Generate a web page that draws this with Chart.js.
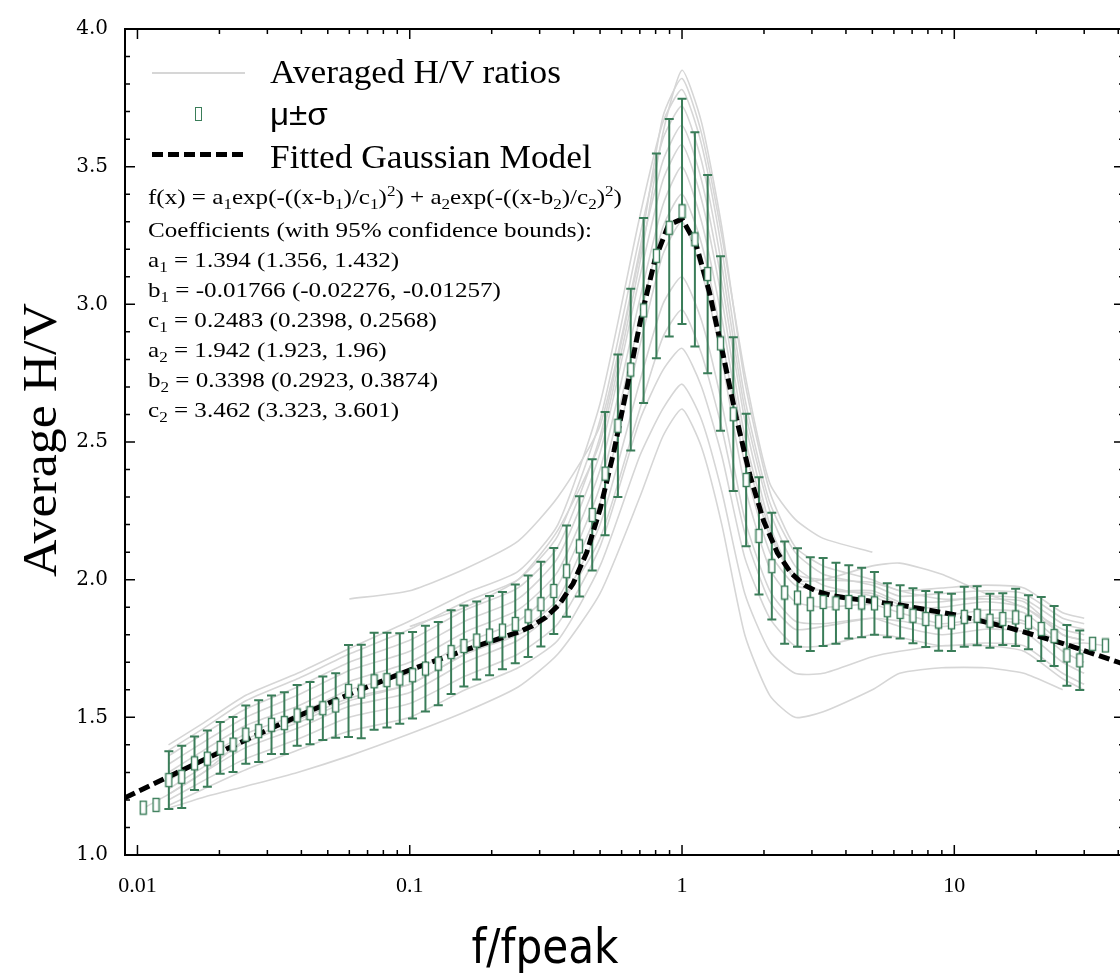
<!DOCTYPE html>
<html>
<head>
<meta charset="utf-8">
<title>Average H/V</title>
<script src="https://cdn.jsdelivr.net/npm/chart.js@4.4.1/dist/chart.umd.min.js"></script>
<style>
    body { margin: 0; background: #fff; }
    #quadro { position: relative; width: 1120px; height: 980px; overflow: hidden; background: #fff; }
    #graficoHV { position: absolute; left: 0; top: 0; }
    .texto { position: absolute; white-space: nowrap; color: #000; }
    .legenda { font-family: 'Liberation Serif', 'Times New Roman', serif; font-size: 33px; line-height: 40px; transform: scaleX(1.07); transform-origin: left center; }
    .equacao { font-family: 'Liberation Serif', 'Times New Roman', serif; font-size: 22px; line-height: 30px; transform: scaleX(1.14); transform-origin: left center; }
    sub, sup { font-size: 0.68em; line-height: 0; }
    #tituloY { left: 40px; top: 440px; font-family: 'Liberation Serif', serif; font-size: 48px; line-height: 48px;
        transform: translate(-50%, -50%) rotate(-90deg) scaleX(1.08); }
    #tituloX { left: 545px; top: 922px; font-family: 'DejaVu Sans', sans-serif; font-size: 48px; line-height: 48px;
        transform: translateX(-50%) scaleX(0.88); }
</style>
</head>
<body>
<div id="quadro">
    <canvas id="graficoHV" width="1130" height="980"></canvas>

    <div class="texto" id="tituloY">Average H/V</div>
    <div class="texto" id="tituloX">f/fpeak</div>

    <!-- legenda -->
    <div class="texto" style="left:152px; top:72px; width:93px; border-top:2px solid #d6d6d6;"></div>
    <div class="texto" style="left:195px; top:107px; width:5px; height:12px; border:1.5px solid #3a7d59;"></div>
    <div class="texto" style="left:152px; top:152px; width:93px; height:5px; background:repeating-linear-gradient(to right, #000 0 11px, transparent 11px 16px);"></div>
    <div class="texto legenda" style="left:270px; top:52px;">Averaged H/V ratios</div>
    <div class="texto legenda" style="left:270px; top:95px; font-family:'Liberation Sans', Arial, sans-serif; font-size:31px;">&mu;&plusmn;&sigma;</div>
    <div class="texto legenda" style="left:270px; top:137px;">Fitted Gaussian Model</div>

    <!-- equacao do ajuste -->
    <div class="texto equacao" style="left:148px; top:182px;">f(x) = a<sub>1</sub>exp(-((x-b<sub>1</sub>)/c<sub>1</sub>)<sup>2</sup>) + a<sub>2</sub>exp(-((x-b<sub>2</sub>)/c<sub>2</sub>)<sup>2</sup>)</div>
    <div class="texto equacao" style="left:148px; top:215px;">
        Coefficients (with 95% confidence bounds):<br>
        a<sub>1</sub> = 1.394 (1.356, 1.432)<br>
        b<sub>1</sub> = -0.01766 (-0.02276, -0.01257)<br>
        c<sub>1</sub> = 0.2483 (0.2398, 0.2568)<br>
        a<sub>2</sub> = 1.942 (1.923, 1.96)<br>
        b<sub>2</sub> = 0.3398 (0.2923, 0.3874)<br>
        c<sub>2</sub> = 3.462 (3.323, 3.601)
    </div>
</div>

<script>
// eixos
const marcasX = [0.01, 0.1, 1, 10];
const rotulosX = ['0.01', '0.1', '1', '10'];
const marcasY = [1.0, 1.5, 2.0, 2.5, 3.0, 3.5, 4.0];
const rotulosY = ['1.0', '1.5', '2.0', '2.5', '3.0', '3.5', '4.0'];

// media e desvio (mu +- sigma)
const frequencias = [0.0105, 0.0117, 0.01304, 0.01454, 0.0162, 0.01806, 0.02013, 0.02244, 0.025, 0.02787,
    0.03107, 0.03463, 0.0386, 0.04302, 0.04796, 0.05346, 0.05959, 0.06637, 0.07399, 0.08248,
    0.09192, 0.1024, 0.1142, 0.1273, 0.1419, 0.1581, 0.1762, 0.1964, 0.219, 0.2441,
    0.2721, 0.3032, 0.338, 0.3767, 0.4199, 0.468, 0.5217, 0.5814, 0.6481, 0.7225,
    0.8052, 0.8975, 1.0, 1.115, 1.242, 1.385, 1.543, 1.72, 1.917, 2.137,
    2.382, 2.655, 2.959, 3.298, 3.676, 4.098, 4.567, 5.09, 5.674, 6.324,
    7.05, 7.857, 8.758, 9.761, 10.88, 12.13, 13.52, 15.07, 16.8, 18.72,
    20.86, 23.26, 25.92, 28.89, 32.2, 35.89];
const mediaHV = [1.172, 1.182, 1.272, 1.284, 1.333, 1.350, 1.389, 1.401, 1.437, 1.450,
    1.473, 1.479, 1.507, 1.515, 1.533, 1.543, 1.596, 1.594, 1.631, 1.635,
    1.641, 1.653, 1.677, 1.695, 1.737, 1.759, 1.779, 1.797, 1.815, 1.839,
    1.867, 1.911, 1.959, 2.031, 2.121, 2.235, 2.385, 2.559, 2.763, 2.978,
    3.176, 3.278, 3.338, 3.236, 3.110, 2.858, 2.601, 2.362, 2.159, 2.049,
    1.953, 1.935, 1.911, 1.919, 1.914, 1.919, 1.917, 1.914, 1.889, 1.883,
    1.869, 1.857, 1.848, 1.845, 1.865, 1.869, 1.851, 1.857, 1.863, 1.845,
    1.821, 1.795, 1.725, 1.707, 1.767, 1.761];
const desvioHV = [0, 0, 0.105, 0.113, 0.097, 0.102, 0.094, 0.100, 0.106, 0.112,
    0.106, 0.112, 0.110, 0.113, 0.115, 0.117, 0.167, 0.170, 0.176, 0.172,
    0.164, 0.157, 0.156, 0.151, 0.152, 0.147, 0.142, 0.144, 0.140, 0.143,
    0.148, 0.154, 0.156, 0.166, 0.182, 0.202, 0.224, 0.259, 0.294, 0.336,
    0.372, 0.395, 0.409, 0.389, 0.360, 0.317, 0.279, 0.241, 0.213, 0.194,
    0.186, 0.179, 0.170, 0.160, 0.147, 0.133, 0.126, 0.114, 0.098, 0.097,
    0.100, 0.102, 0.106, 0.104, 0.109, 0.107, 0.098, 0.094, 0.104, 0.098,
    0.116, 0.109, 0.110, 0.108, 0, 0];

// modelo gaussiano ajustado
const freqAjuste = [0.009, 0.01, 0.01585, 0.02512, 0.03981, 0.0631, 0.1, 0.1585, 0.2512, 0.2818,
    0.3162, 0.3548, 0.3981, 0.4467, 0.5012, 0.5623, 0.631, 0.7079, 0.7943, 0.8913,
    1.0, 1.122, 1.259, 1.413, 1.585, 1.778, 1.995, 2.239, 2.512, 2.818,
    3.162, 3.548, 3.981, 5.012, 6.31, 10, 15.85, 25.12, 39.81, 44.67];
const valorAjuste = [1.208, 1.230, 1.325, 1.419, 1.509, 1.593, 1.672, 1.743, 1.810, 1.832,
    1.863, 1.911, 1.986, 2.099, 2.259, 2.467, 2.708, 2.953, 3.160, 3.288,
    3.310, 3.223, 3.046, 2.820, 2.585, 2.377, 2.213, 2.098, 2.024, 1.980,
    1.956, 1.942, 1.934, 1.921, 1.908, 1.873, 1.826, 1.768, 1.701, 1.683];

// curvas H/V individuais (cinza)
const freqCurvas = [0.0105, 0.013, 0.0175, 0.025, 0.0387, 0.06, 0.1, 0.16, 0.25, 0.35,
    0.5, 0.7, 0.85, 1, 1.18, 1.4, 1.7, 2.1, 2.6, 3.3,
    5.0, 6.3, 9, 13, 18, 25, 30, 36];
const curva1 = [1.17, 1.22, 1.30, 1.42, 1.49, 1.57, 1.62, 1.73, 1.80, 1.90, 2.15, 2.62, 2.88, 2.98, 2.82, 2.55, 2.17, 1.92, 1.82, 1.83, 1.86, 1.85, 1.83, 1.85, 1.84, 1.77, 1.77, 1.76];
const curva2 = [null, 1.17, 1.21, 1.25, 1.30, 1.36, 1.44, 1.52, 1.61, 1.73, 1.95, 2.30, 2.52, 2.62, 2.48, 2.20, 1.80, 1.58, 1.50, 1.52, 1.60, 1.66, 1.68, 1.68, 1.66, 1.60, null, null];
const curva3 = [null, 1.18, 1.24, 1.31, 1.38, 1.45, 1.50, 1.60, 1.68, 1.78, 2.05, 2.45, 2.62, 2.71, 2.58, 2.32, 1.95, 1.74, 1.66, 1.66, 1.72, 1.74, 1.76, 1.76, 1.74, 1.64, 1.60, null];
const curva4 = [null, 1.20, 1.27, 1.35, 1.42, 1.50, 1.55, 1.65, 1.73, 1.84, 2.12, 2.58, 2.76, 2.84, 2.70, 2.45, 2.08, 1.86, 1.76, 1.76, 1.80, 1.79, 1.76, 1.77, 1.76, 1.66, 1.62, null];
const curva5 = [null, 1.22, 1.30, 1.39, 1.46, 1.54, 1.59, 1.70, 1.78, 1.90, 2.20, 2.72, 3.00, 3.10, 2.94, 2.64, 2.22, 1.96, 1.85, 1.84, 1.86, 1.83, 1.80, 1.82, 1.81, 1.70, 1.66, null];
const curva6 = [null, 1.24, 1.32, 1.41, 1.48, 1.56, 1.62, 1.73, 1.81, 1.93, 2.28, 2.85, 3.18, 3.30, 3.12, 2.80, 2.34, 2.04, 1.92, 1.90, 1.91, 1.88, 1.84, 1.86, 1.85, 1.74, 1.70, null];
const curva7 = [null, 1.27, 1.35, 1.44, 1.51, 1.60, 1.66, 1.77, 1.85, 1.98, 2.34, 2.95, 3.28, 3.40, 3.22, 2.88, 2.42, 2.10, 1.98, 1.96, 1.95, 1.91, 1.87, 1.89, 1.88, 1.77, 1.74, null];
const curva8 = [null, 1.30, 1.38, 1.47, 1.54, 1.63, 1.70, 1.81, 1.89, 2.03, 2.40, 3.02, 3.36, 3.50, 3.30, 2.95, 2.48, 2.16, 2.02, 2.00, 1.99, 1.96, 1.93, 1.93, 1.92, 1.80, 1.78, null];
const curva9 = [null, 1.33, 1.41, 1.50, 1.58, 1.67, 1.74, 1.85, 1.93, 2.08, 2.46, 3.10, 3.45, 3.58, 3.38, 3.02, 2.52, 2.18, 2.00, 2.00, 2.05, 2.06, 2.02, 1.95, 1.90, 1.82, 1.80, null];
const curva10 = [null, 1.36, 1.44, 1.53, 1.61, 1.70, 1.78, 1.89, 1.97, 2.12, 2.52, 3.18, 3.52, 3.65, 3.45, 3.08, 2.58, 2.20, 2.00, 1.96, 1.96, 1.92, 1.92, 1.94, 1.93, 1.84, 1.82, null];
const curva11 = [null, 1.38, 1.46, 1.56, 1.64, 1.73, 1.82, 1.92, 2.00, 2.16, 2.58, 3.25, 3.60, 3.72, 3.52, 3.14, 2.62, 2.25, 2.05, 1.98, 1.94, 1.90, 1.90, 1.92, 1.90, 1.80, 1.78, null];
const curva12 = [null, 1.40, 1.48, 1.58, 1.66, 1.75, 1.85, 1.95, 2.03, 2.20, 2.64, 3.32, 3.66, 3.78, 3.58, 3.20, 2.66, 2.28, 2.10, 2.02, 1.98, 1.94, 1.95, 1.96, 1.95, 1.86, 1.84, null];
const curva13 = [null, null, null, null, null, 1.93, 1.96, 2.04, 2.14, 2.30, 2.56, 3.20, 3.68, 3.82, 3.62, 3.25, 2.75, 2.35, 2.22, 2.15, 2.10, null, null, null, null, null, null, null];
const curva14 = [null, null, null, null, null, null, 1.83, 1.90, 2.00, 2.18, 2.50, 3.15, 3.62, 3.85, 3.66, 3.28, 2.72, 2.32, 2.12, 2.05, 2.00, 1.96, 1.97, 1.98, 1.97, 1.88, 1.86, null];
const curvasHV = [curva1, curva2, curva3, curva4, curva5, curva6, curva7, curva8, curva9, curva10, curva11, curva12, curva13, curva14];

const verde = '#3a7d59';

function criarCaixa() {
    // marcador da media: retangulo vazado
    let caixa = document.createElement('canvas');
    caixa.width = 9;
    caixa.height = 16;
    let c = caixa.getContext('2d');
    c.fillStyle = '#fff';
    c.fillRect(1, 1, 7, 14);
    c.strokeStyle = verde;
    c.lineWidth = 1.4;
    c.strokeRect(1.5, 1.5, 6, 13);
    return caixa;
}

function desenharBarras(chart) {
    const ctx = chart.ctx;
    const x = chart.scales.x;
    const y = chart.scales.y;
    ctx.save();
    ctx.strokeStyle = verde;
    ctx.lineWidth = 2;
    ctx.beginPath();
    for (let i = 0; i < frequencias.length; i++) {
        if (desvioHV[i] == 0) continue;
        let px = x.getPixelForValue(frequencias[i]);
        let topo = y.getPixelForValue(mediaHV[i] + desvioHV[i]);
        let base = y.getPixelForValue(mediaHV[i] - desvioHV[i]);
        ctx.moveTo(px, topo); ctx.lineTo(px, base);
        ctx.moveTo(px - 4.5, topo); ctx.lineTo(px + 4.5, topo);
        ctx.moveTo(px - 4.5, base); ctx.lineTo(px + 4.5, base);
    }
    ctx.stroke();
    ctx.restore();
}

function desenharEixos(chart) {
    const ctx = chart.ctx;
    const a = chart.chartArea;
    const x = chart.scales.x;
    const y = chart.scales.y;
    ctx.save();
    ctx.strokeStyle = '#000';
    ctx.lineWidth = 1.5;
    ctx.beginPath();
    // marcas para dentro, como no original
    for (let d = 0; d < marcasX.length; d++) {
        for (let k = 1; k <= 9; k++) {
            let v = marcasX[d] * k;
            if (v < x.min || v > x.max) continue;
            let px = x.getPixelForValue(v);
            let t = k == 1 ? 10 : 5;
            ctx.moveTo(px, a.bottom); ctx.lineTo(px, a.bottom - t);
            ctx.moveTo(px, a.top); ctx.lineTo(px, a.top + t);
        }
    }
    for (let j = 0; j <= 30; j++) {
        let py = y.getPixelForValue(1 + j / 10);
        let t = j % 5 == 0 ? 10 : 5;
        ctx.moveTo(a.left, py); ctx.lineTo(a.left + t, py);
        ctx.moveTo(a.right, py); ctx.lineTo(a.right - t, py);
    }
    ctx.stroke();
    ctx.lineWidth = 2;
    ctx.strokeRect(a.left, a.top, a.right - a.left, a.bottom - a.top);
    ctx.restore();
}

function plotarGrafico() {
    let media = [];
    for (let i = 0; i < frequencias.length; i++) {
        media.push({ x: frequencias[i], y: mediaHV[i] });
    }
    let ajuste = [];
    for (let i = 0; i < freqAjuste.length; i++) {
        ajuste.push({ x: freqAjuste[i], y: valorAjuste[i] });
    }

    // indice 0 fica por cima de tudo
    let conjuntos = [
        { label: 'μ±σ', data: media, showLine: false, pointStyle: criarCaixa(), pointRadius: 5 },
        { label: 'Fitted Gaussian Model', data: ajuste, borderColor: '#000', borderWidth: 5,
          borderDash: [11, 5], pointRadius: 0, tension: 0, fill: false }
    ];
    for (let c = 0; c < curvasHV.length; c++) {
        let pontos = [];
        for (let i = 0; i < freqCurvas.length; i++) {
            if (curvasHV[c][i] !== null) pontos.push({ x: freqCurvas[i], y: curvasHV[c][i] });
        }
        conjuntos.push({ label: 'Averaged H/V ratios', data: pontos, borderColor: '#d6d6d6',
            borderWidth: 1.6, pointRadius: 0, tension: 0.2, fill: false });
    }

    const pluginMarcas = {
        id: 'marcas',
        beforeDatasetDraw(chart, args) {
            if (args.index == 1) desenharBarras(chart);
        },
        afterDraw(chart) {
            desenharEixos(chart);
        }
    };

    const config = {
        type: 'line',
        data: { datasets: conjuntos },
        options: {
            responsive: false,
            animation: false,
            layout: { padding: { top: 20, right: 3.4, left: 0, bottom: 0 } },
            plugins: { legend: { display: false }, tooltip: { enabled: false } },
            scales: {
                x: {
                    type: 'logarithmic',
                    min: 0.009,
                    max: 42,
                    grid: { display: false, drawTicks: false },
                    border: { display: false },
                    afterBuildTicks: (s) => { s.ticks = marcasX.map(v => ({ value: v })); },
                    afterFit: (s) => { s.height = 125; },
                    ticks: {
                        autoSkip: false, maxRotation: 0, padding: 18, color: '#000',
                        font: { family: 'Liberation Serif', size: 22 },
                        callback: (v, i) => rotulosX[i]
                    }
                },
                y: {
                    type: 'linear',
                    min: 1,
                    max: 4,
                    grid: { display: false, drawTicks: false },
                    border: { display: false },
                    afterBuildTicks: (s) => { s.ticks = marcasY.map(v => ({ value: v })); },
                    afterFit: (s) => { s.width = 125; },
                    ticks: {
                        padding: 17, color: '#000',
                        font: { family: 'DejaVu Serif', size: 20 },
                        callback: (v, i) => rotulosY[i]
                    }
                }
            }
        },
        plugins: [pluginMarcas]
    };

    let myChart = new Chart(document.getElementById('graficoHV'), config);
}

plotarGrafico();
</script>
</body>
</html>
